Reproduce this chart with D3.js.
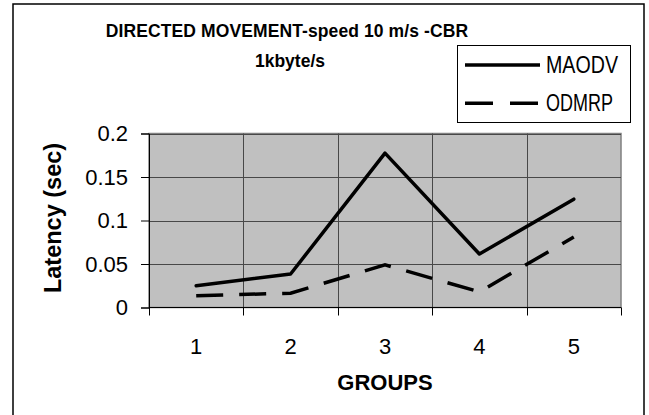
<!DOCTYPE html>
<html><head><meta charset="utf-8">
<script src="https://cdn.jsdelivr.net/npm/d3@7/dist/d3.min.js"></script>
<style>body{margin:0;background:#fff}svg{display:block}text{font-family:"Liberation Sans",Arial,sans-serif}</style>
</head><body><svg id="c" width="649" height="415"></svg>
<script>
const groups = [1, 2, 3, 4, 5];
const maodv = [0.025, 0.0385, 0.1775, 0.0615, 0.1245];
const odmrp = [0.0135, 0.0165, 0.049, 0.018, 0.081];
const yTicks = [0, 0.05, 0.1, 0.15, 0.2];
const seriesNames = ["MAODV", "ODMRP"];
const titleLines = ["DIRECTED MOVEMENT-speed 10 m/s -CBR", "1kbyte/s"];

const svg = d3.select("#c");
const L = 149, R = 621, T = 133.5, B = 307.5;
const x = d3.scaleBand().domain(groups).range([L, R]);
const y = d3.scaleLinear().domain([0, 0.2]).range([B, T]);

// outer border
svg.append("rect").attr("x", 13).attr("y", 4).attr("width", 631).attr("height", 420)
  .attr("fill", "#fff").attr("stroke", "#000").attr("stroke-width", 1.5);

// plot area
svg.append("rect").attr("x", L).attr("y", T).attr("width", R - L).attr("height", B - T)
  .attr("fill", "#c0c0c0").attr("stroke", "#808080").attr("stroke-width", 1.5);

// horizontal grid
svg.append("g").selectAll("line").data(yTicks.filter(d => d > 0)).join("line")
  .attr("x1", L).attr("x2", R).attr("y1", d => Math.round(y(d)) + 0.5).attr("y2", d => Math.round(y(d)) + 0.5)
  .attr("stroke", "#484848").attr("stroke-width", 1);
// vertical grid at band boundaries
const bounds = groups.slice(1).map(g => x(g));
svg.append("g").selectAll("line").data(bounds).join("line")
  .attr("x1", d => Math.round(d) + 0.5).attr("x2", d => Math.round(d) + 0.5).attr("y1", T).attr("y2", B)
  .attr("stroke", "#484848").attr("stroke-width", 1);

// y axis
const yAxis = d3.axisLeft(y).tickValues(yTicks).tickSize(8).tickPadding(13)
  .tickFormat(d => String(+d.toFixed(2)));
const gy = svg.append("g").attr("transform", `translate(${L},0)`).call(yAxis);
gy.selectAll("text").attr("font-size", 22).attr("fill", "#000").attr("font-family", "Liberation Sans, Arial, sans-serif");
gy.selectAll("line").attr("stroke", "#000");
gy.select(".domain").attr("stroke", "#000");

// x axis: ticks at band boundaries, labels at centers
const gx = svg.append("g").attr("transform", `translate(0,${B})`);
gx.append("line").attr("x1", L).attr("x2", R).attr("stroke", "#000");
gx.selectAll("line.t").data([L, ...bounds, R]).join("line").attr("class", "t")
  .attr("x1", d => Math.round(d) + 0.5).attr("x2", d => Math.round(d) + 0.5).attr("y1", 0).attr("y2", 8).attr("stroke", "#000");
gx.selectAll("text").data(groups).join("text")
  .attr("x", d => x(d) + x.bandwidth() / 2).attr("y", 46).attr("text-anchor", "middle")
  .attr("font-size", 22).text(d => d);

// axis titles
svg.append("text").attr("x", 385).attr("y", 390).attr("text-anchor", "middle")
  .attr("font-size", 22).attr("font-weight", "bold").text("GROUPS");
svg.append("text").attr("transform", "translate(61,218) rotate(-90)").attr("text-anchor", "middle")
  .attr("font-size", 23.5).attr("font-weight", "bold").text("Latency (sec)");

// chart title
svg.selectAll("text.title").data(titleLines).join("text").attr("class", "title")
  .attr("x", (d, i) => i === 0 ? 287 : 290).attr("y", (d, i) => 37 + i * 30)
  .attr("text-anchor", "middle").attr("font-size", 17.5).attr("font-weight", "bold")
  .attr("letter-spacing", (d, i) => i === 0 ? 0.1 : 0).text(d => d);

// lines
const line = d3.line().x((d, i) => x(groups[i]) + x.bandwidth() / 2).y(d => y(d));
svg.append("path").datum(maodv).attr("d", line).attr("fill", "none")
  .attr("stroke", "#000").attr("stroke-width", 3.5).attr("stroke-linejoin", "round").attr("stroke-linecap", "round");
svg.append("path").datum(odmrp).attr("d", line).attr("fill", "none")
  .attr("stroke", "#000").attr("stroke-width", 3.5).attr("stroke-dasharray", "27,16");

// legend
const lg = svg.append("g");
lg.append("rect").attr("x", 457.5).attr("y", 45.5).attr("width", 173).attr("height", 77)
  .attr("fill", "#fff").attr("stroke", "#000").attr("stroke-width", 1);
const items = lg.selectAll("g").data(seriesNames).join("g")
  .attr("transform", (d, i) => `translate(0,${65 + i * 38.3})`);
items.append("line").attr("x1", 465).attr("x2", 540).attr("stroke", "#000").attr("stroke-width", 3.5)
  .attr("stroke-dasharray", (d, i) => i === 1 ? "28,17" : null);
items.append("text").attr("x", 546).attr("y", 8).attr("font-size", 23)
  .attr("textLength", (d, i) => i === 0 ? 72 : 67).attr("lengthAdjust", "spacingAndGlyphs").text(d => d);
</script></body></html>
